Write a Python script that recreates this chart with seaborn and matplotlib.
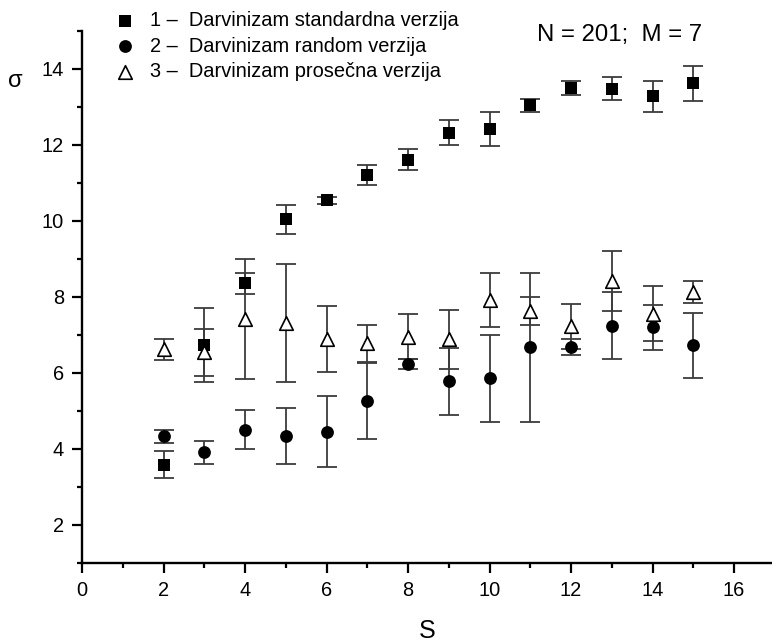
import matplotlib
matplotlib.use("Agg")
import matplotlib.pyplot as plt
import numpy as np
import pandas as pd
import seaborn as sns

# values
S = [2, 3, 4, 5, 6, 7, 8, 9, 10, 11, 12, 13, 14, 15]

sig_std = [3.59, 6.73, 8.36, 10.05, 10.54, 11.22, 11.61, 12.32, 12.43, 13.05, 13.50, 13.48, 13.28, 13.62]
err_std = [0.36, 0.97, 0.28, 0.38, 0.08, 0.26, 0.28, 0.33, 0.45, 0.17, 0.18, 0.30, 0.40, 0.47]

sig_rnd = [4.33, 3.91, 4.51, 4.35, 4.46, 5.27, 6.24, 5.78, 5.86, 6.68, 6.69, 7.25, 7.20, 6.73]
err_rnd = [0.17, 0.31, 0.52, 0.74, 0.93, 1.00, 0.13, 0.88, 1.15, 1.96, 0.21, 0.87, 0.60, 0.86]

sig_avg = [6.62, 6.54, 7.43, 7.32, 6.90, 6.78, 6.96, 6.89, 7.92, 7.63, 7.23, 8.42, 7.56, 8.13]
err_avg = [0.27, 0.63, 1.58, 1.55, 0.87, 0.48, 0.60, 0.78, 0.70, 0.37, 0.59, 0.80, 0.73, 0.30]

labels = ["1 \u2013  Darvinizam standardna verzija",
          "2 \u2013  Darvinizam random verzija",
          "3 \u2013  Darvinizam prose\u010dna verzija"]

sns.set_style("ticks")
plt.rcParams["font.family"] = ["Liberation Sans", "DejaVu Sans"]
plt.rcParams.update({"text.color": "black", "axes.labelcolor": "black",
                     "xtick.color": "black", "ytick.color": "black"})

fig = plt.figure(figsize=(7.72, 6.43), dpi=100)
ax = fig.add_axes([82 / 772, 1 - 563 / 643, (772 - 82) / 772, (563 - 31) / 643])

series = [
    (sig_std, err_std, "s", "black", 70),
    (sig_rnd, err_rnd, "o", "black", 85),
    (sig_avg, err_avg, "^", "white", 95),
]

for (y, e, mk, fc, sz), lab in zip(series, labels):
    df = pd.DataFrame({"S": S, "sigma": y, "err": e})
    ax.errorbar(df["S"], df["sigma"], yerr=df["err"], fmt="none",
                ecolor="#3c3c3c", elinewidth=1.3, capsize=7.2, capthick=1.3, zorder=2)
    sns.scatterplot(data=df, x="S", y="sigma", marker=mk, s=sz, color=fc,
                    edgecolor="black", linewidth=1.2 if fc == "white" else 0,
                    ax=ax, zorder=3, label=lab)

ax.set_xlim(0, 16.93)
ax.set_ylim(1, 15)
ax.set_xticks(np.arange(0, 17, 2))
ax.set_xticks(np.arange(1, 17, 2), minor=True)
ax.set_yticks(np.arange(2, 15, 2))
ax.set_yticks(np.arange(1, 16, 2), minor=True)
ax.tick_params(which="major", length=7, width=1.6, labelsize=14.4, pad=6)
ax.tick_params(which="minor", length=3.6, width=1.6)
for side in ["top", "right"]:
    ax.spines[side].set_visible(False)
for side in ["left", "bottom"]:
    ax.spines[side].set_linewidth(1.7)
    ax.spines[side].set_color("black")

ax.set_xlabel("S", fontsize=18, labelpad=14)
ax.set_ylabel("\u03c3", fontsize=17, rotation=0)
ax.yaxis.set_label_coords(-0.097, 0.885)

leg = ax.legend(loc="upper left", bbox_to_anchor=(115 / 772, 1 - 11 / 643),
                bbox_transform=fig.transFigure, frameon=False, fontsize=14.4,
                handlelength=1.0, handletextpad=0.75, labelspacing=0.33,
                borderpad=0, borderaxespad=0)

fig.text(537 / 772, 1 - 35 / 643, "N = 201;  M = 7", fontsize=17.3, va="center", ha="left")

fig.savefig("out.png", dpi=100)
